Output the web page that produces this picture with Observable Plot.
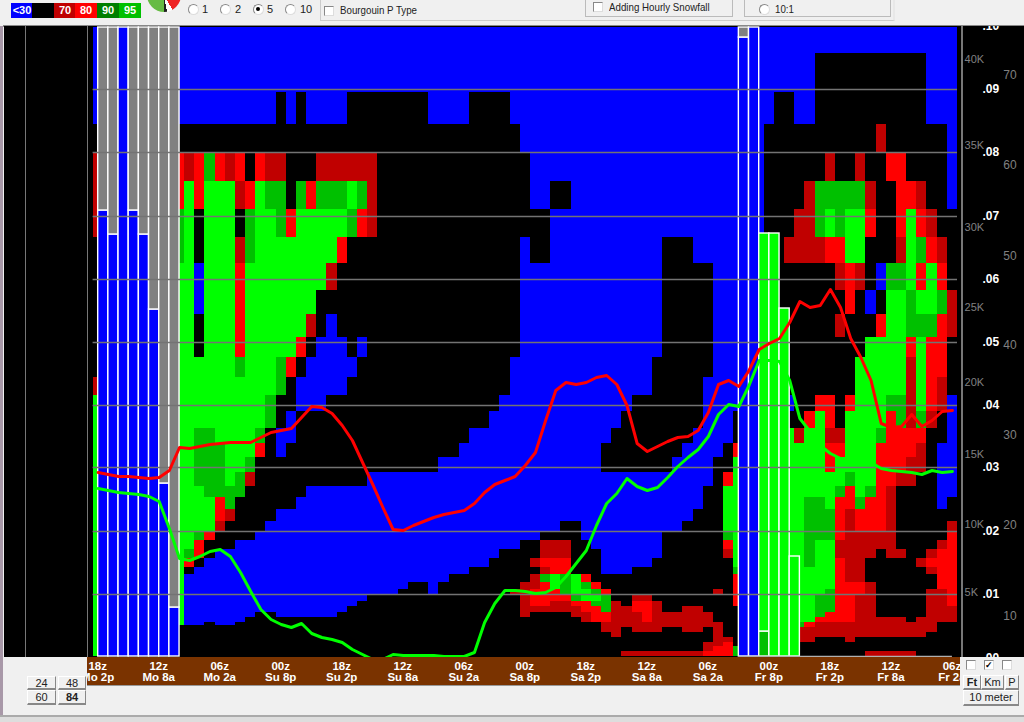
<!DOCTYPE html>
<html><head><meta charset="utf-8">
<script src="https://cdn.jsdelivr.net/npm/d3@7"></script>
<script src="https://cdn.jsdelivr.net/npm/@observablehq/plot@0.6"></script>
<style>
html,body{margin:0;padding:0;background:#f0f0f0;width:1024px;height:722px;overflow:hidden;font-family:"Liberation Sans",Arial,sans-serif;font-size:11px;color:#222}
.a{position:absolute;box-sizing:border-box}
.t{position:absolute;transform:scaleX(.885);transform-origin:left center;white-space:nowrap}
.btn{position:absolute;box-sizing:border-box;background:#f0f0f0;border:1px solid #fff;border-right-color:#888;border-bottom:2px solid #888;text-align:center;font-size:11px;line-height:12px;color:#222}
.cb{position:absolute;box-sizing:border-box;width:10px;height:10px;background:#fff;border:1px solid #888;border-bottom-color:#ddd;border-right-color:#ddd}
.rd{position:absolute;box-sizing:border-box;width:11px;height:11px;background:#fff;border:1px solid #888;border-bottom-color:#ddd;border-right-color:#ddd;border-radius:50%}
.lg{position:absolute;top:3px;height:15px;width:22px;color:#fff;font-weight:bold;font-size:11px;line-height:14px;text-align:center}
</style></head><body>
<div class="a" style="left:0;top:26px;width:3px;height:690px;background:#a898a8"></div>
<div class="a" style="left:3px;top:25px;width:1021px;height:2px;background:#888"></div>
<div class="a" style="left:4px;top:26px;width:956px;height:631px;background:#000"></div>
<div class="a" style="left:960px;top:26px;width:64px;height:631px;background:#000"></div>
<div class="a" style="left:25px;top:26px;width:1px;height:631px;background:#777"></div>
<div class="a" style="left:87px;top:26px;width:1px;height:631px;background:#777"></div>
<div class="a" style="left:961px;top:26px;width:2px;height:631px;background:#777"></div>
<div class="a" style="left:87px;top:657px;width:873px;height:29px;background:#7a3300;border-bottom:1px solid #999"></div>

<div class="lg" style="left:11px;background:#0000ff">&lt;30</div>
<div class="lg" style="left:32px;background:#000"></div>
<div class="lg" style="left:54px;background:#c00000">70</div>
<div class="lg" style="left:75px;background:#ff0000">80</div>
<div class="lg" style="left:97px;background:#007f00">90</div>
<div class="lg" style="left:119px;background:#00c000">95</div>
<div class="a" style="left:147px;top:-22px;width:34px;height:34px;border-radius:50%;background:conic-gradient(#ee2222 0 150deg,#fff 150deg 170deg,#222 170deg 180deg,#66bb44 180deg 340deg,#fff 340deg 360deg)"></div>
<div class="rd" style="left:188px;top:4px"></div><div class="a" style="left:202px;top:3px">1</div>
<div class="rd" style="left:220px;top:4px"></div><div class="a" style="left:235px;top:3px">2</div>
<div class="rd" style="left:253px;top:4px"></div><div class="a" style="left:256px;top:7px;width:4px;height:4px;border-radius:50%;background:#000"></div><div class="a" style="left:267px;top:3px">5</div>
<div class="rd" style="left:285px;top:4px"></div><div class="a" style="left:300px;top:3px">10</div>
<div class="a" style="left:320px;top:-2px;width:575px;height:23px;border:1px solid #ccc;border-top:0;border-right:2px solid #e8e8e8"></div>
<div class="cb" style="left:324px;top:6px"></div><div class="t" style="left:340px;top:4px">Bourgouin P Type</div>
<div class="a" style="left:585px;top:-2px;width:148px;height:19px;border:1px solid #bbb"></div>
<div class="cb" style="left:593px;top:2px"></div><div class="t" style="left:609px;top:1px">Adding Hourly Snowfall</div>
<div class="a" style="left:744px;top:-2px;width:147px;height:19px;border:1px solid #bbb"></div>
<div class="rd" style="left:759px;top:4px"></div><div class="t" style="left:775px;top:3px">10:1</div>

<div id="main" class="a" style="left:0;top:26px;width:1024px;height:631px;overflow:hidden"></div>
<div id="strip" class="a" style="left:87px;top:657px;width:873px;height:29px;overflow:hidden"></div>

<div class="btn" style="left:27px;top:676px;width:29px;height:14px">24</div>
<div class="btn" style="left:58px;top:676px;width:28px;height:14px">48</div>
<div class="btn" style="left:27px;top:690px;width:29px;height:15px">60</div>
<div class="btn" style="left:58px;top:690px;width:28px;height:15px;font-weight:bold">84</div>
<div class="cb" style="left:966px;top:660px;width:10px;height:10px"></div>
<div class="cb" style="left:984px;top:660px;width:10px;height:10px;font-size:9px;line-height:8px;font-weight:bold;color:#000">&#10003;</div>
<div class="cb" style="left:1002px;top:660px;width:10px;height:10px"></div>
<div class="btn" style="left:963px;top:675px;width:18px;height:15px;font-weight:bold">Ft</div>
<div class="btn" style="left:981px;top:675px;width:23px;height:15px">Km</div>
<div class="btn" style="left:1005px;top:675px;width:14px;height:15px">P</div>
<div class="btn" style="left:963px;top:690px;width:56px;height:16px">10 meter</div>
<div class="a" style="left:0;top:715px;width:1024px;height:2px;background:#aaa"></div>
<div class="a" style="left:0;top:717px;width:1024px;height:5px;background:#ddd"></div>

<script>
// Hourly column letters: b <30, k 30-70, d 70, r 80, g 90, l 95
const palette = {b:"#0000ff", k:"#000000", d:"#c00000", r:"#ff0000", g:"#00c000", l:"#00ff00", s:"#808080"};

// top level of every layer, highest first, then the ground
const layerEdges = [629,603,564,532,504,475,447,419,393,366,342,319,299,279,261,245,228,213,199,184,170,159,147,135,125,116,107,98,89,82,74,67,61,55,50,44,39,34,31,29,24,19,14,10,5,0];

// each layer: colour letter + first hour column of that run
const layerRuns = [
"b0",
"b0 k71 b82",
"b0 k18 b19 k20 b21 k25 b33 k37 b41 k67 b69 k71 b82",
"k0 b42 k66 d77 k78 b84",
"d0 k1 r8 d9 r10 g11 r12 d13 r14 k15 r16 d17 k19 d22 k28 b43 k66 d72 k73 d75 k76 r78 k80 b84",
"d0 k1 r8 l9 r10 l11 d14 r15 l16 g17 k19 g20 r21 g22 l25 g26 d27 k28 b43 k45 b47 k66 d70 g71 d76 k77 r79 d81 k82 b84",
"d0 k1 g8 l9 k10 l11 k14 g15 l16 g18 r19 l20 g25 r26 d27 k28 b45 k66 d69 g71 l72 g73 l74 r76 k77 r79 l80 r81 d82 k83",
"k0 g8 l9 k10 l11 d14 g15 l16 r24 k25 b42 k43 b45 k56 b59 k66 d68 r72 l74 k76 d79 l80 g81 r82 d83 k84",
"k0 l8 b10 l11 r14 l15 d23 k24 b42 k56 b61 k66 d73 r74 d75 k76 b77 g78 l80 r81 l82 r83 k84",
"k0 l8 b10 l11 r14 l15 k22 b42 k56 b61 k66 r74 k75 b76 k77 l78 g80 l81 g83 d84",
"k0 l8 k10 l11 r14 l15 d21 k22 b23 k24 b42 k56 b61 k66 d73 k74 r77 l78 g80 r83 d84",
"k0 l8 k10 l11 r14 l15 r20 k21 b22 k25 b26 k27 b42 k56 b61 k66 l76 r80 l81 r82 k84",
"k0 l8 g14 l15 g18 r19 k20 b21 k26 b41 k55 b61 k66 l75 d80 l81 r82 k84",
"d0 k1 l8 g18 k19 b20 k25 b41 k55 b60 k66 l75 d80 l81 r82 d83 k84",
"l0 g17 k18 b20 k23 b40 k53 b60 k69 r71 k73 r74 l75 g78 d80 l81 r82 d83 b84",
"l0 g17 k18 b19 k20 b39 k52 b60 k63 r70 l71 r72 k73 l74 r78 g79 d80 g81 d82 k83 b84",
"l0 g10 l12 g16 k17 b18 k20 b37 k51 b59 k63 l68 d69 l70 d72 l74 g77 r78 k82 b84",
"l0 g10 l13 r16 k17 b18 k19 b36 k50 b58 k62 r63 l68 r72 l74 r77 d81 k82 b83",
"l0 g10 l13 g15 k16 b34 k50 b57 k61 l63 r72 l73 r77 d80 k82 b83",
"l0 g10 l13 g14 d15 k16 b27 k61 r62 l63 g74 l75 r77 d79 k81 b83",
"l0 g11 k15 b21 k60 l62 g73 r74 l75 g76 r77 d78 k79 b83",
"l0 r12 g13 k14 b20 k60 l62 g70 l72 r73 g75 r76 d78 k79 b83 k84",
"l0 r12 d13 k14 b18 k59 l62 g70 r73 d74 r75 d78 k79",
"l0 d12 k13 b17 k46 b48 k58 l62 g70 r73 d74 r75 d78 k79 d84",
"l0 g10 r11 k12 b16 k44 b48 k56 g62 l63 g70 r73 d74 k79 r84",
"l0 r10 k11 b14 k42 d44 k47 b49 k56 r62 l63 g70 l71 d73 k79 d83 r84",
"l0 g9 r10 k11 b12 k40 d44 k47 b50 k56 d62 l63 g70 l71 d73 k77 d78 k80 d82 r83",
"l0 r9 k10 b11 k39 d43 r44 k47 b50 k55 l63 g70 l71 r73 d74 k76 d81 r82",
"l0 k9 b10 k37 d44 r45 k47 b50 k53 g63 l68 r73 d74 k76 d82 r83",
"l0 b9 k35 d43 g44 l45 g46 l47 r48 k49 r63 l68 r73 d74 k76 r83",
"l0 b9 k31 b33 k34 d42 r44 l45 g46 l47 g48 r49 k50 r63 l68 r73 d76 k77 r83",
"l0 b9 k30 b33 k34 d41 r43 g46 l47 g49 r50 k51 d61 k62 r63 l68 g72 r73 d76 k77 d82 r84",
"l0 b9 k27 d42 r43 g47 l48 g50 k51 d53 k55 r63 l68 g71 r73 d75 k77 d82 r84",
"l0 b9 k26 d42 r43 d45 r47 g49 d51 k52 r53 d55 k56 r63 k64 l68 g71 r73 d75 k77 d82 r84",
"l0 b9 k25 d42 r48 g50 d51 r53 d55 k56 d58 k60 l68 g71 r73 d75 k77 d82",
"l0 b9 k16 b18 k24 d42 k43 d47 r49 d51 r54 d55 k61 l68 g71 r72 d75 k77 d82",
"l0 b9 k15 d48 r49 d51 r54 d55 k61 l68 r71 d75 k80 d81",
"l0 b9 k11 b12 k14 d50 k62 g69 r70 d71 k83",
"l0 k1 d50 k62 g69 r70 d71 k83",
"l0 k1 d50 k52 d53 k56 d58 k60 d61 k62 d69 k83",
"l0 k1 d51 k52 d61 k62 d69 k82",
"l0 k1 d61 k63 d69 k71 d74 k75",
"l0 k1 d60 r62 k63",
"l0 k1 d60 r61 g63 k64",
"l0 k1 d52 r60 g63 k64 d76 k81"
];

// outlined sounding bars: left edge (hour column), lower colour, top of lower part, upper colour
const barStart = [0.5,1.5,2.5,3.5,4.5,5.5,6.5,7.5,63.5,64.5,65.5,66.5,67.5,68.5];
const barTop   = [446,422,629,446,422,347,173,49,619,629,423,423,348,100];
const barFill  = ["b","b","b","b","b","b","b","b","b","b","l","l","l","l"];
const barUpper = ["s","s","s","s","s","s","s","s","s","",  "", "", "", ""];
const barBase  = [0,0,0,0,0,0,0,0,0,0,25,0,0,0];

// hourly lines, one value per hour column centre
const redLine = [184,182,180,180,179,178,179,186,209,208,210,212,213,214,214,214,219,224,226,228,239,250,249,243,231,216,194,172,149,127,126,131,135,139,142,144,146,153,164,172,176,180,191,204,236,266,274,272,274,279,281,272,251,213,205,210,215,219,220,226,244,272,276,270,286,307,313,318,334,355,349,351,367,349,318,299,276,233,229,230,242,230,236,245,246];
const greenLine = [168,166,164,163,162,160,155,128,98,96,100,105,107,100,84,65,47,37,32,29,33,23,19,17,14,7,2,-3,-3,2,1,1,1,1,0,0,0,4,34,53,66,66,65,63,64,69,80,93,106,131,153,163,178,170,166,169,179,190,199,207,220,242,252,250,271,296,296,295,276,238,225,211,203,198,197,196,194,188,186,185,184,182,186,184,185];

// axis labels
const gridLevels = [567,504,440,377,314,251,189,125,62];
const fracLabels = [".10",".09",".08",".07",".06",".05",".04",".03",".02",".01",".00"];
const fracLevels = [630,567,504,440,377,314,251,189,125,62,-2];
const feetLabels = ["40K","35K","30K","25K","20K","15K","10K","5K"];
const feetLevels = [597,511,429,349,274,202,132,64];
const tempLabels = ["70","60","50","40","30","20","10"];
const tempLevels = [581,491,400,311,221,131,40];
const timeLabels = ["18z\nMo 2p","12z\nMo 8a","06z\nMo 2a","00z\nSu 8p","18z\nSu 2p","12z\nSu 8a","06z\nSu 2a","00z\nSa 8p","18z\nSa 2p","12z\nSa 8a","06z\nSa 2a","00z\nFr 8p","18z\nFr 2p","12z\nFr 8a","06z\nFr 2a"];
const timeCols = timeLabels.map((_, i) => 0.45 + 6 * i);

const cells = [];
layerRuns.forEach((row, r) => {
  const runs = row.split(" ").map(t => ({k: t[0], c: +t.slice(1)}));
  runs.forEach((run, i) => cells.push({
    c1: run.c, c2: i + 1 < runs.length ? runs[i + 1].c : 85,
    top: layerEdges[r], bot: layerEdges[r + 1], fill: palette[run.k]
  }));
});
const bars = [];
barStart.forEach((c, i) => {
  if (barBase[i]) bars.push({c1: c, c2: c + 1, bot: 0, top: barBase[i], fill: palette.g});
  bars.push({c1: c, c2: c + 1, bot: barBase[i], top: barTop[i], fill: palette[barFill[i]]});
  if (barUpper[i]) bars.push({c1: c, c2: c + 1, bot: barTop[i], top: 629, fill: palette[barUpper[i]]});
});
const hours = redLine.map((_, i) => i + 0.5);
const xTo = 957, xFrom = 92.6;

const font = '"Liberation Sans",Arial,sans-serif';
const main = Plot.plot({
  width: 1024, height: 631,
  margin: 0,
  style: {background: "transparent", fontFamily: font},
  x: {domain: [0, 85], range: [xFrom, xTo], axis: null},
  y: {domain: [0, 629], range: [630, 1], axis: null},
  color: {type: "identity"},
  marks: [
    Plot.rect(cells, {x1: "c1", x2: "c2", y1: "bot", y2: "top", fill: "fill", shapeRendering: "crispEdges"}),
    Plot.rect(bars, {x1: "c1", x2: "c2", y1: "bot", y2: "top", fill: "fill", stroke: "#ffffff", strokeWidth: 1.4}),
    Plot.ruleY(gridLevels, {x1: 0, x2: 85, stroke: "#737373", strokeWidth: 1.3}),
    Plot.ruleY([0], {x1: 63.5, x2: 84.5, stroke: "#b0b0b0", strokeWidth: 1.3}),
    Plot.line(hours.map((h, i) => ({h, v: greenLine[i]})), {x: "h", y: "v", stroke: "#00ff00", strokeWidth: 3}),
    Plot.line(hours.map((h, i) => ({h, v: redLine[i]})), {x: "h", y: "v", stroke: "#ff0000", strokeWidth: 3}),
    Plot.text(fracLabels, {x: 89.1, y: (_, i) => fracLevels[i], text: d => d, textAnchor: "end", fill: "#ffffff", fontWeight: "bold", fontSize: 12}),
    Plot.text(feetLabels, {x: 85.7, y: (_, i) => feetLevels[i], text: d => d, textAnchor: "start", fill: "#808080", fontSize: 11}),
    Plot.text(tempLabels, {x: 89.5, y: (_, i) => tempLevels[i], text: d => d, textAnchor: "start", fill: "#808080", fontSize: 12})
  ]
});
document.getElementById("main").appendChild(main);

const strip = Plot.plot({
  width: 873, height: 29,
  margin: 0,
  style: {background: "transparent", fontFamily: font},
  x: {domain: [0, 85], range: [xFrom - 87, xTo - 87], axis: null},
  marks: [
    Plot.text(timeLabels, {x: (_, i) => timeCols[i], text: d => d, fill: "#ffffff", fontWeight: "bold", fontSize: 11.5, lineHeight: 1})
  ]
});
document.getElementById("strip").appendChild(strip);
</script>
</body></html>
